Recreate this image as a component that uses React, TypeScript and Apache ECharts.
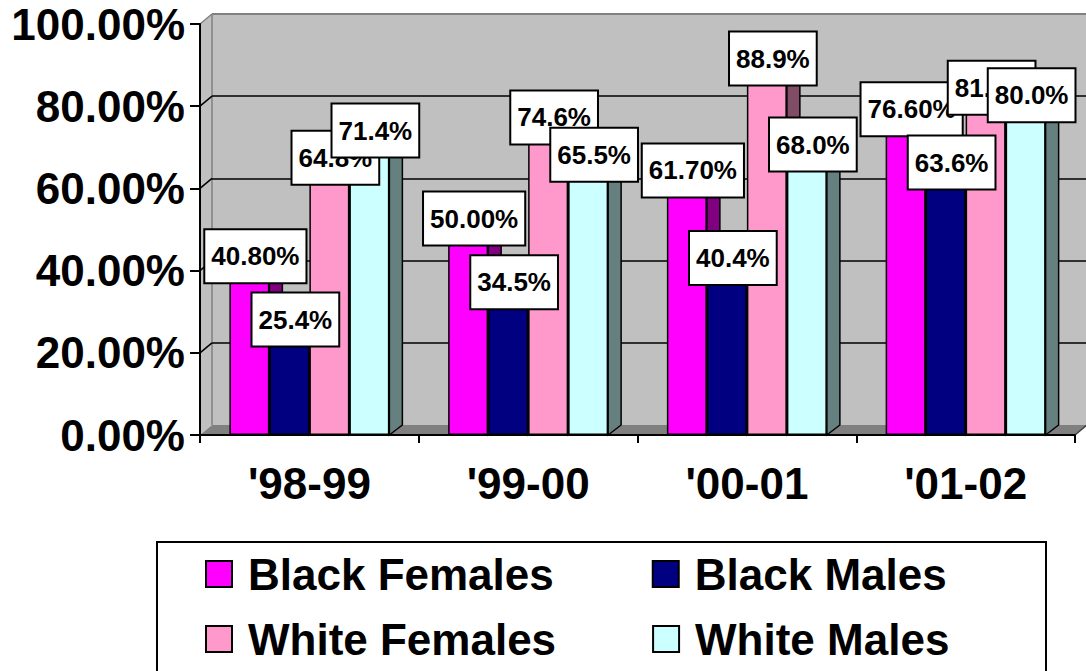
import React, { useEffect, useRef } from 'react';
import * as echarts from 'echarts';

// ---- data ----
const categories = ["'98-99", "'99-00", "'00-01", "'01-02"];
const seriesNames = ['Black Females', 'Black Males', 'White Females', 'White Males'];
const blackFemales = [40.8, 50.0, 61.7, 76.6];
const blackMales = [25.4, 34.5, 40.4, 63.6];
const whiteFemales = [64.8, 74.6, 88.9, 81.8];
const whiteMales = [71.4, 65.5, 68.0, 80.0];
const labelDecimals = [2, 1, 1, 1];
const yMin = 0;
const yMax = 100;
const yStep = 20;
const yTickValues = [0, 20, 40, 60, 80, 100];

// ---- style ----
const FONT = "'Liberation Sans', Arial, Helvetica, sans-serif";
const frontColors = ['#FF00FF', '#000080', '#FF99CC', '#CCFFFF'];
const sideColors = ['#800080', '#000040', '#804C66', '#668080'];
const topColors = ['#C000C0', '#000060', '#C07399', '#99C0C0'];
const WALL = '#C0C0C0';
const FLOOR = '#808080';
const EDGE = '#808080';

const PLOT = { left: 200, top: 24, width: 875, height: 411 };
const WALL_DX = 12;
const WALL_DY = 10;
const BAR_W = 40;
const BAR_DX = 13;
const BAR_DY = 10;

const allSeries = [blackFemales, blackMales, whiteFemales, whiteMales];

function yPix(v: number) {
  return PLOT.top + PLOT.height * (1 - (v - yMin) / (yMax - yMin));
}

export default function App() {
  const ref = useRef<HTMLDivElement>(null);

  useEffect(() => {
    if (!ref.current) return;
    const chart = echarts.init(ref.current, undefined, { renderer: 'svg' });

    const L = PLOT.left;
    const R = PLOT.left + PLOT.width;
    const B = PLOT.top + PLOT.height;
    const T = PLOT.top;

    const graphics: any[] = [
      // back wall
      {
        type: 'rect', z: -3, silent: true,
        shape: { x: L + WALL_DX, y: T - WALL_DY, width: PLOT.width, height: PLOT.height },
        style: { fill: WALL },
      },
      // left side wall
      {
        type: 'polygon', z: -3, silent: true,
        shape: { points: [[L, T], [L + WALL_DX, T - WALL_DY], [L + WALL_DX, B - WALL_DY], [L, B]] },
        style: { fill: WALL },
      },
      // floor
      {
        type: 'polygon', z: -3, silent: true,
        shape: { points: [[L, B], [L + WALL_DX, B - WALL_DY], [R + WALL_DX, B - WALL_DY], [R, B]] },
        style: { fill: FLOOR },
      },
      // edges
      {
        type: 'line', z: -2, silent: true,
        shape: { x1: L + WALL_DX, y1: T - WALL_DY, x2: R + WALL_DX, y2: T - WALL_DY },
        style: { stroke: EDGE, lineWidth: 2 },
      },
      {
        type: 'line', z: -2, silent: true,
        shape: { x1: L + WALL_DX, y1: T - WALL_DY, x2: L + WALL_DX, y2: B - WALL_DY },
        style: { stroke: EDGE, lineWidth: 1.5 },
      },
      {
        type: 'line', z: -2, silent: true,
        shape: { x1: L, y1: T, x2: L + WALL_DX, y2: T - WALL_DY },
        style: { stroke: EDGE, lineWidth: 1.5 },
      },
      {
        type: 'line', z: -2, silent: true,
        shape: { x1: R, y1: B, x2: R + WALL_DX, y2: B - WALL_DY },
        style: { stroke: '#404040', lineWidth: 1.5 },
      },
      // legend frame
      {
        type: 'rect', z: 0, silent: true,
        shape: { x: 157, y: 542, width: 889, height: 200 },
        style: { fill: 'none', stroke: '#000', lineWidth: 2 },
      },
    ];
    yTickValues
      .filter((v) => v > yMin && v < yMax)
      .forEach((v) => {
        const y = yPix(v);
        graphics.push({
          type: 'line', z: -2, silent: true,
          shape: { x1: L, y1: y, x2: L + WALL_DX, y2: y - WALL_DY },
          style: { stroke: '#000', lineWidth: 1.5 },
        });
      });

    const barSeries = allSeries.map((vals, k) => ({
      type: 'bar',
      name: seriesNames[k],
      xAxisIndex: 0,
      yAxisIndex: 0,
      data: vals,
      barWidth: BAR_W,
      barGap: '0%',
      z: 3,
      itemStyle: { color: frontColors[k], borderColor: '#000', borderWidth: 1.5 },
      label: {
        show: true,
        position: 'top',
        distance: -15,
        offset: [6, 0],
        formatter: (p: any) => `${Number(p.value).toFixed(labelDecimals[k])}%`,
        fontSize: 26,
        fontWeight: 'bold',
        fontFamily: FONT,
        color: '#000',
        lineHeight: 26,
        backgroundColor: '#fff',
        borderColor: '#000',
        borderWidth: 2,
        padding: [13, 6, 13, 6],
      },
    }));

    const depthSeries = allSeries.map((vals, k) => ({
      type: 'custom',
      name: seriesNames[k] + ' depth',
      xAxisIndex: 0,
      yAxisIndex: 0,
      z: 2,
      silent: true,
      data: vals.map((v, i) => [i, v]),
      encode: { x: 0, y: 1 },
      renderItem: (params: any, api: any) => {
        const idx = api.value(0);
        const val = api.value(1);
        const base = api.coord([idx, 0]);
        const top = api.coord([idx, val]);
        const x0 = base[0] - 2 * BAR_W + k * BAR_W;
        const x1 = x0 + BAR_W;
        const yb = base[1];
        const yt = top[1];
        return {
          type: 'group',
          children: [
            {
              type: 'polygon',
              shape: { points: [[x1, yb], [x1 + BAR_DX, yb - BAR_DY], [x1 + BAR_DX, yt - BAR_DY], [x1, yt]] },
              style: { fill: sideColors[k], stroke: '#000', lineWidth: 1.5 },
            },
            {
              type: 'polygon',
              shape: { points: [[x0, yt], [x1, yt], [x1 + BAR_DX, yt - BAR_DY], [x0 + BAR_DX, yt - BAR_DY]] },
              style: { fill: topColors[k], stroke: '#000', lineWidth: 1.5 },
            },
          ],
        };
      },
    }));

    const legendCommon = {
      left: 205,
      itemWidth: 26,
      itemHeight: 26,
      icon: 'rect',
      selectedMode: false,
      padding: 0,
      orient: 'horizontal',
      itemStyle: { borderColor: '#000', borderWidth: 2 },
      textStyle: {
        fontSize: 44,
        fontWeight: 'bold',
        fontFamily: FONT,
        color: '#000',
        lineHeight: 44,
        padding: [0, 0, 0, 11],
      },
    };

    chart.setOption({
      animation: false,
      backgroundColor: '#fff',
      textStyle: { fontFamily: FONT },
      graphic: { elements: graphics },
      grid: [
        { left: PLOT.left, top: PLOT.top, width: PLOT.width, height: PLOT.height },
        { left: PLOT.left + WALL_DX, top: PLOT.top - WALL_DY, width: PLOT.width, height: PLOT.height },
      ],
      xAxis: [
        {
          type: 'category',
          gridIndex: 0,
          data: categories,
          axisLine: { show: true, lineStyle: { color: '#000', width: 2 } },
          axisTick: { show: true, length: 8, lineStyle: { color: '#000', width: 2 } },
          axisLabel: {
            fontSize: 44,
            fontWeight: 'bold',
            fontFamily: FONT,
            color: '#000',
            margin: 26,
            lineHeight: 44,
          },
          splitLine: { show: false },
        },
        { type: 'category', gridIndex: 1, data: categories, show: false },
      ],
      yAxis: [
        {
          type: 'value',
          gridIndex: 0,
          min: yMin,
          max: yMax,
          interval: yStep,
          axisLine: { show: true, lineStyle: { color: '#000', width: 2 } },
          axisTick: { show: true, length: 10, lineStyle: { color: '#000', width: 2 } },
          axisLabel: {
            fontSize: 44,
            fontWeight: 'bold',
            fontFamily: FONT,
            color: '#000',
            margin: 15,
            formatter: (v: number) => `${v.toFixed(2)}%`,
          },
          splitLine: { show: false },
        },
        {
          type: 'value',
          gridIndex: 1,
          min: yMin,
          max: yMax,
          interval: yStep,
          axisLine: { show: false },
          axisTick: { show: false },
          axisLabel: { show: false },
          splitLine: {
            show: true,
            showMinLine: false,
            showMaxLine: false,
            lineStyle: { color: '#000', width: 1.5 },
          },
        },
      ],
      legend: [
        { ...legendCommon, top: 552, itemGap: 98, data: [seriesNames[0], seriesNames[1]] },
        { ...legendCommon, top: 617, itemGap: 96, data: [seriesNames[2], seriesNames[3]] },
      ],
      series: [...depthSeries, ...barSeries],
    });

    return () => chart.dispose();
  }, []);

  return (
    <div
      ref={ref}
      style={{ position: 'absolute', left: 0, top: 0, width: 1086, height: 671 }}
    />
  );
}
